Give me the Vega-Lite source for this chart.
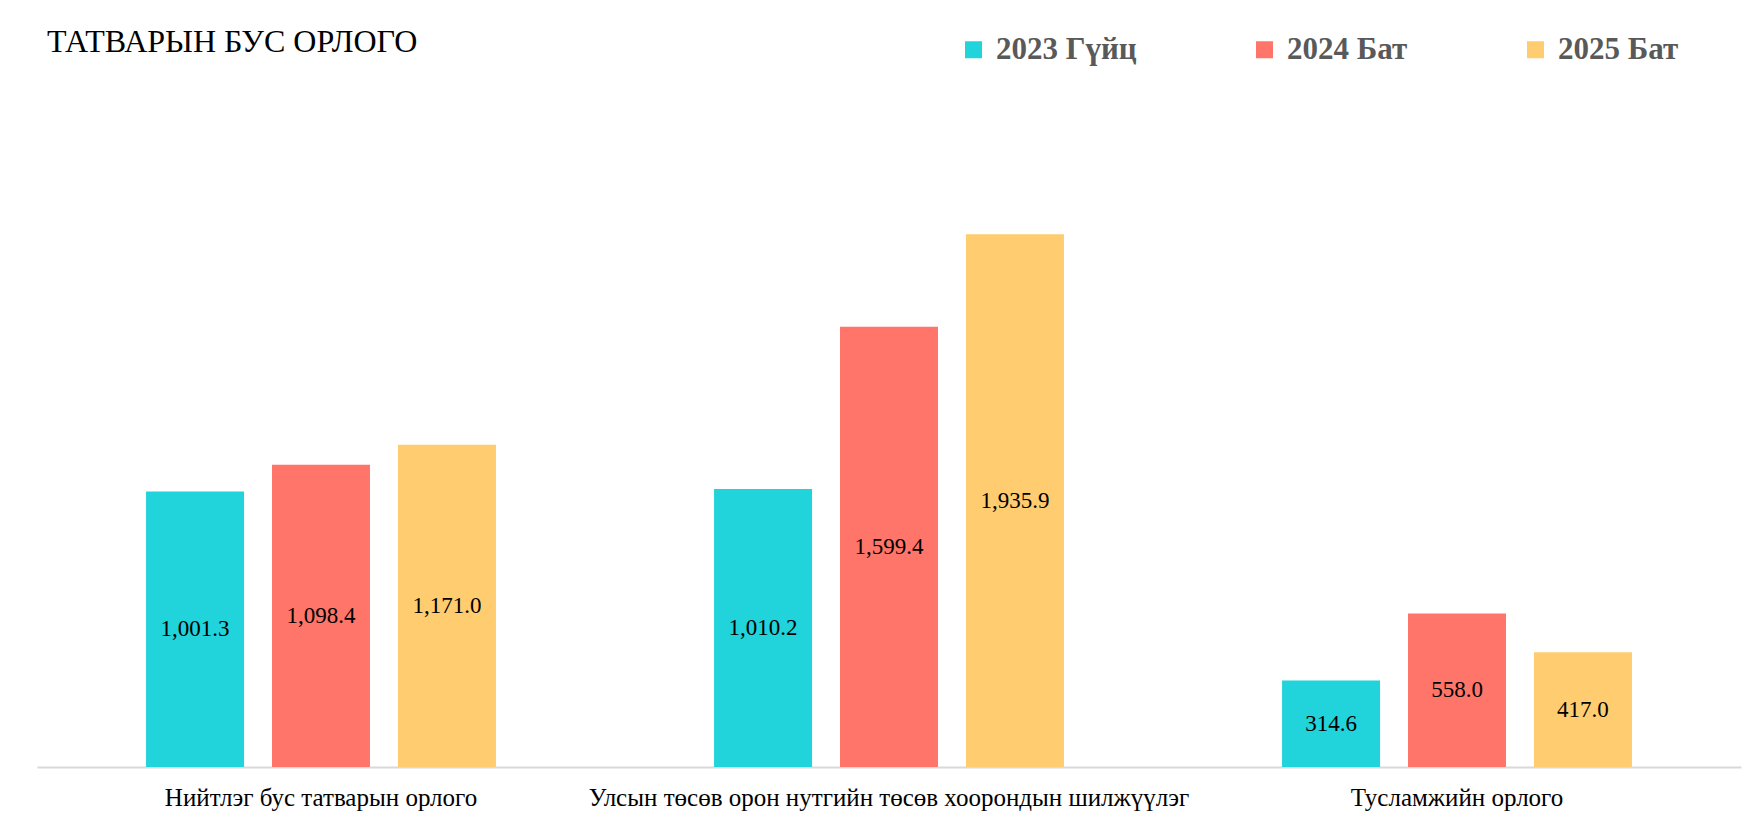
{
  "$schema": "https://vega.github.io/schema/vega-lite/v6.json",
  "width": 1704,
  "height": 688,
  "autosize": {"type": "none"},
  "padding": {"left": 37, "top": 79, "right": 13, "bottom": 61},
  "background": "white",
  "title": {
    "text": "ТАТВАРЫН БУС ОРЛОГО",
    "anchor": "start",
    "frame": "group",
    "baseline": "alphabetic",
    "offset": -23,
    "dy": 27,
    "dx": 10,
    "font": "Liberation Serif",
    "fontSize": 32,
    "fontWeight": "normal",
    "color": "#000000"
  },
  "config": {"view": {"stroke": null}},
  "data": {
    "values": [
      {"category": "Нийтлэг бус татварын орлого", "series": "2023 Гүйц", "value": 1001.3},
      {"category": "Нийтлэг бус татварын орлого", "series": "2024 Бат", "value": 1098.4},
      {"category": "Нийтлэг бус татварын орлого", "series": "2025 Бат", "value": 1171.0},
      {"category": "Улсын төсөв орон нутгийн төсөв хоорондын шилжүүлэг", "series": "2023 Гүйц", "value": 1010.2},
      {"category": "Улсын төсөв орон нутгийн төсөв хоорондын шилжүүлэг", "series": "2024 Бат", "value": 1599.4},
      {"category": "Улсын төсөв орон нутгийн төсөв хоорондын шилжүүлэг", "series": "2025 Бат", "value": 1935.9},
      {"category": "Тусламжийн орлого", "series": "2023 Гүйц", "value": 314.6},
      {"category": "Тусламжийн орлого", "series": "2024 Бат", "value": 558.0},
      {"category": "Тусламжийн орлого", "series": "2025 Бат", "value": 417.0}
    ]
  },
  "encoding": {
    "x": {
      "field": "category",
      "type": "nominal",
      "sort": null,
      "scale": {"paddingInner": 0.384, "paddingOuter": 0.192},
      "axis": {
        "title": null,
        "labelAngle": 0,
        "ticks": false,
        "domain": true,
        "domainColor": "#d9d9d9",
        "domainWidth": 2,
        "grid": false,
        "labelFont": "Liberation Serif",
        "labelFontSize": 25,
        "labelColor": "#000000",
        "labelBaseline": "alphabetic",
        "labelPadding": 38,
        "labelLimit": 0
      }
    },
    "xOffset": {
      "field": "series",
      "type": "nominal",
      "sort": null,
      "scale": {"paddingInner": 0.222, "paddingOuter": 0}
    }
  },
  "layer": [
    {
      "mark": {"type": "bar"},
      "encoding": {
        "y": {"field": "value", "type": "quantitative", "scale": {"domain": [0, 2500]}, "axis": null},
        "color": {
          "field": "series",
          "type": "nominal",
          "sort": null,
          "scale": {"domain": ["2023 Гүйц", "2024 Бат", "2025 Бат"], "range": ["#21D3DA", "#FF7569", "#FFCC70"]},
          "legend": {
            "title": null,
            "orient": "none",
            "legendX": 921,
            "legendY": -45,
            "direction": "horizontal",
            "columns": 3,
            "symbolType": "square",
            "symbolSize": 289,
            "symbolStrokeWidth": 0,
            "labelFont": "Liberation Serif",
            "labelFontSize": 31,
            "labelFontWeight": "bold",
            "labelColor": "#595959",
            "labelOffset": 7,
            "columnPadding": 112,
            "labelLimit": 0,
            "padding": 0,
            "labelExpr": "datum.label == '2023 Гүйц' ? '\u00a02023 Гүйц' : datum.label"
          }
        }
      }
    },
    {
      "mark": {"type": "text", "font": "Liberation Serif", "fontSize": 23, "color": "#000000", "baseline": "middle"},
      "encoding": {
        "y": {"field": "value", "type": "quantitative", "scale": {"domain": [0, 5000]}, "axis": null},
        "text": {"field": "value", "type": "quantitative", "format": ",.1f"}
      }
    }
  ],
  "resolve": {"scale": {"y": "independent"}}
}
